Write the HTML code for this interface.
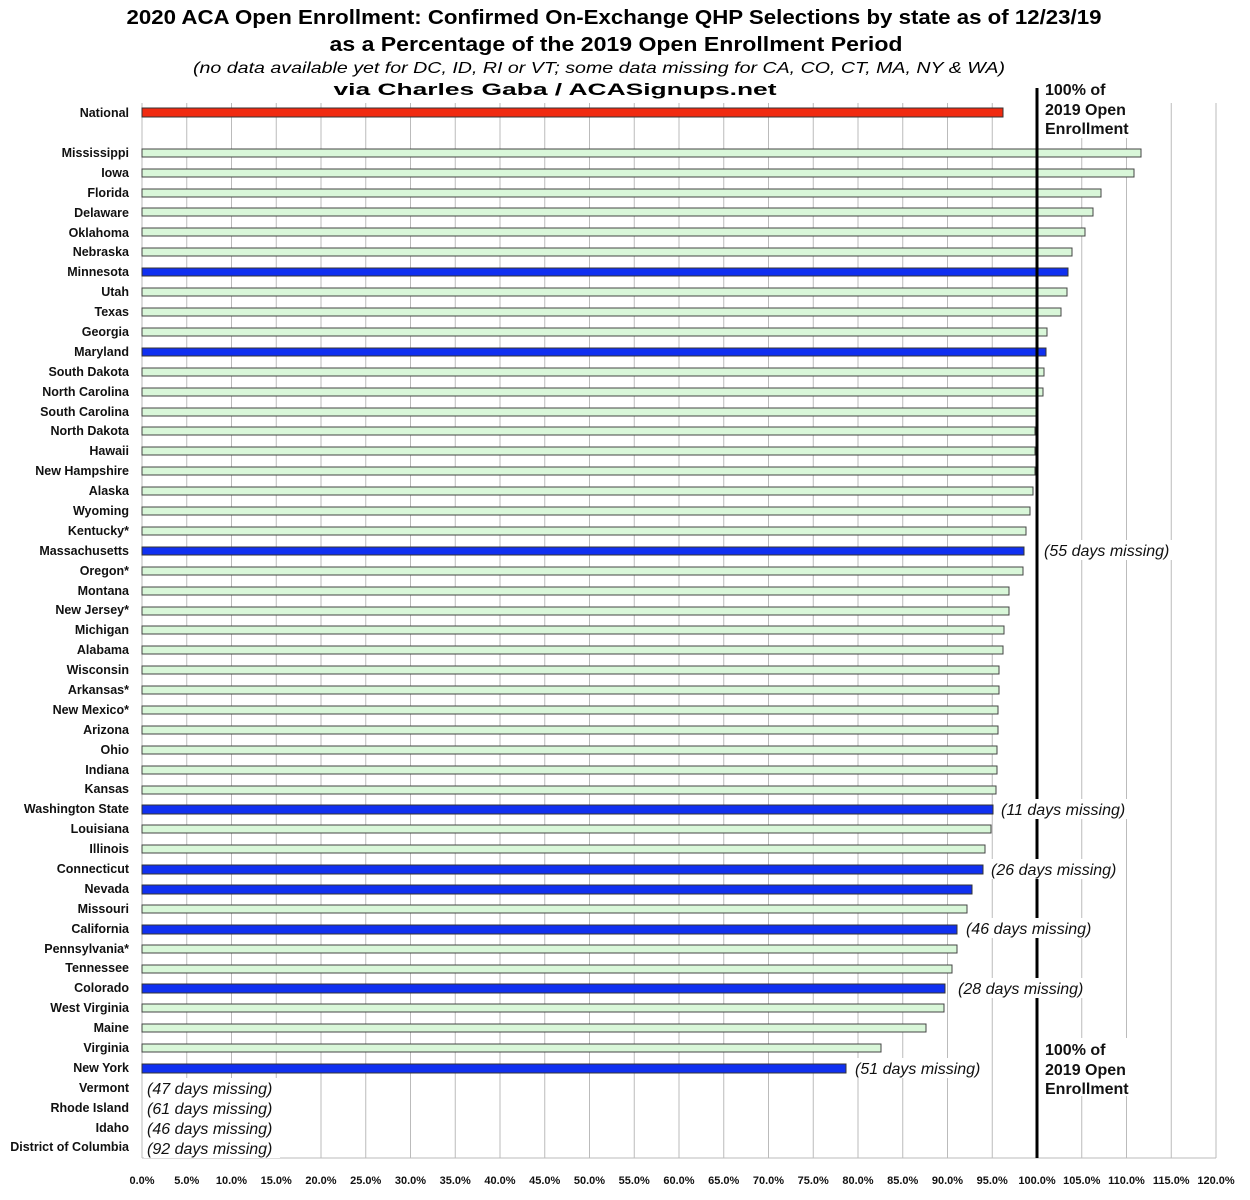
<!DOCTYPE html>
<html><head><meta charset="utf-8"><style>
html,body{margin:0;padding:0;background:#fff}
svg{display:block}
text{font-family:"Liberation Sans",sans-serif}
.l{font-size:12.5px;font-weight:bold;text-anchor:end;fill:#111}
.a{font-size:16px;font-style:italic;fill:#111}
.t{font-size:11px;font-weight:bold;text-anchor:middle;fill:#111}
.g{fill:#d9f7d9;stroke:#444;stroke-width:1}
.b{fill:#1030f0;stroke:#333;stroke-width:1}
</style></head><body>
<svg width="1250" height="1200" viewBox="0 0 1250 1200" xmlns="http://www.w3.org/2000/svg">
<rect width="1250" height="1200" fill="#fff"/>
<text x="614" y="24" text-anchor="middle" font-size="20" font-weight="bold" textLength="975" lengthAdjust="spacingAndGlyphs">2020 ACA Open Enrollment: Confirmed On-Exchange QHP Selections by state as of 12/23/19</text>
<text x="616" y="51" text-anchor="middle" font-size="20" font-weight="bold" textLength="573" lengthAdjust="spacingAndGlyphs">as a Percentage of the 2019 Open Enrollment Period</text>
<text x="599" y="73" text-anchor="middle" font-size="16" font-style="italic" textLength="812" lengthAdjust="spacingAndGlyphs">(no data available yet for DC, ID, RI or VT; some data missing for CA, CO, CT, MA, NY &amp; WA)</text>
<text x="555" y="95" text-anchor="middle" font-size="17" font-weight="bold" textLength="443" lengthAdjust="spacingAndGlyphs">via Charles Gaba / ACASignups.net</text>
<g stroke="#bbb" stroke-width="1">
<line x1="186.75" y1="103" x2="186.75" y2="1158"/><line x1="231.5" y1="103" x2="231.5" y2="1158"/><line x1="276.25" y1="103" x2="276.25" y2="1158"/><line x1="321" y1="103" x2="321" y2="1158"/><line x1="365.75" y1="103" x2="365.75" y2="1158"/><line x1="410.5" y1="103" x2="410.5" y2="1158"/><line x1="455.25" y1="103" x2="455.25" y2="1158"/><line x1="500" y1="103" x2="500" y2="1158"/><line x1="544.75" y1="103" x2="544.75" y2="1158"/><line x1="589.5" y1="103" x2="589.5" y2="1158"/><line x1="634.25" y1="103" x2="634.25" y2="1158"/><line x1="679" y1="103" x2="679" y2="1158"/><line x1="723.75" y1="103" x2="723.75" y2="1158"/><line x1="768.5" y1="103" x2="768.5" y2="1158"/><line x1="813.25" y1="103" x2="813.25" y2="1158"/><line x1="858" y1="103" x2="858" y2="1158"/><line x1="902.75" y1="103" x2="902.75" y2="1158"/><line x1="947.5" y1="103" x2="947.5" y2="1158"/><line x1="992.25" y1="103" x2="992.25" y2="1158"/><line x1="1081.75" y1="103" x2="1081.75" y2="1158"/><line x1="1126.5" y1="103" x2="1126.5" y2="1158"/><line x1="1171.25" y1="103" x2="1171.25" y2="1158"/><line x1="1216" y1="103" x2="1216" y2="1158"/>
<line x1="142" y1="1158" x2="1216" y2="1158"/>
<line x1="142" y1="103" x2="142" y2="1158"/>
</g>
<g>
<rect x="142" y="108" width="861" height="9" fill="#f02a10" stroke="#333"/>
<rect class="g" x="142" y="149" width="999" height="8"/>
<rect class="g" x="142" y="169" width="992" height="8"/>
<rect class="g" x="142" y="189" width="959" height="8"/>
<rect class="g" x="142" y="208" width="951" height="8"/>
<rect class="g" x="142" y="228" width="943" height="8"/>
<rect class="g" x="142" y="248" width="930" height="8"/>
<rect class="b" x="142" y="268" width="926" height="8"/>
<rect class="g" x="142" y="288" width="925" height="8"/>
<rect class="g" x="142" y="308" width="919" height="8"/>
<rect class="g" x="142" y="328" width="905" height="8"/>
<rect class="b" x="142" y="348" width="904" height="8"/>
<rect class="g" x="142" y="368" width="902" height="8"/>
<rect class="g" x="142" y="388" width="901" height="8"/>
<rect class="g" x="142" y="408" width="895" height="8"/>
<rect class="g" x="142" y="427" width="893" height="8"/>
<rect class="g" x="142" y="447" width="893" height="8"/>
<rect class="g" x="142" y="467" width="893" height="8"/>
<rect class="g" x="142" y="487" width="891" height="8"/>
<rect class="g" x="142" y="507" width="888" height="8"/>
<rect class="g" x="142" y="527" width="884" height="8"/>
<rect class="b" x="142" y="547" width="882" height="8"/>
<rect class="g" x="142" y="567" width="881" height="8"/>
<rect class="g" x="142" y="587" width="867" height="8"/>
<rect class="g" x="142" y="607" width="867" height="8"/>
<rect class="g" x="142" y="626" width="862" height="8"/>
<rect class="g" x="142" y="646" width="861" height="8"/>
<rect class="g" x="142" y="666" width="857" height="8"/>
<rect class="g" x="142" y="686" width="857" height="8"/>
<rect class="g" x="142" y="706" width="856" height="8"/>
<rect class="g" x="142" y="726" width="856" height="8"/>
<rect class="g" x="142" y="746" width="855" height="8"/>
<rect class="g" x="142" y="766" width="855" height="8"/>
<rect class="g" x="142" y="786" width="854" height="8"/>
<rect class="b" x="142" y="805" width="851" height="9"/>
<rect class="g" x="142" y="825" width="849" height="8"/>
<rect class="g" x="142" y="845" width="843" height="8"/>
<rect class="b" x="142" y="865" width="841" height="9"/>
<rect class="b" x="142" y="885" width="830" height="9"/>
<rect class="g" x="142" y="905" width="825" height="8"/>
<rect class="b" x="142" y="925" width="815" height="9"/>
<rect class="g" x="142" y="945" width="815" height="8"/>
<rect class="g" x="142" y="965" width="810" height="8"/>
<rect class="b" x="142" y="984" width="803" height="9"/>
<rect class="g" x="142" y="1004" width="802" height="8"/>
<rect class="g" x="142" y="1024" width="784" height="8"/>
<rect class="g" x="142" y="1044" width="739" height="8"/>
<rect class="b" x="142" y="1064" width="704" height="9"/>
</g>
<line x1="1037" y1="88" x2="1037" y2="1158" stroke="#000" stroke-width="3"/>
<g fill="#fff">
<rect x="1043" y="80" width="95" height="58"/>
<rect x="1043" y="1038" width="95" height="58"/>
<rect x="1040" y="540" width="136" height="20"/>
<rect x="997" y="799" width="136" height="20"/>
<rect x="987" y="859" width="136" height="20"/>
<rect x="962" y="918" width="136" height="20"/>
<rect x="954" y="978" width="136" height="20"/>
<rect x="851" y="1058" width="136" height="20"/>
<rect x="144" y="1078" width="136" height="80"/>
</g>
<g font-size="16" font-weight="bold" fill="#111">
<text x="1045" y="95">100% of</text><text x="1045" y="115">2019 Open</text><text x="1045" y="134">Enrollment</text>
<text x="1045" y="1055">100% of</text><text x="1045" y="1075">2019 Open</text><text x="1045" y="1094">Enrollment</text>
</g>
<g class="a">
<text class="a" x="1044" y="556">(55 days missing)</text>
<text class="a" x="1001" y="815">(11 days missing)</text>
<text class="a" x="991" y="875">(26 days missing)</text>
<text class="a" x="966" y="934">(46 days missing)</text>
<text class="a" x="958" y="994">(28 days missing)</text>
<text class="a" x="855" y="1074">(51 days missing)</text>
<text class="a" x="147" y="1094">(47 days missing)</text>
<text class="a" x="147" y="1114">(61 days missing)</text>
<text class="a" x="147" y="1134">(46 days missing)</text>
<text class="a" x="147" y="1154">(92 days missing)</text>
</g>
<g>
<text class="l" x="129" y="117">National</text>
<text class="l" x="129" y="157">Mississippi</text>
<text class="l" x="129" y="177">Iowa</text>
<text class="l" x="129" y="197">Florida</text>
<text class="l" x="129" y="217">Delaware</text>
<text class="l" x="129" y="237">Oklahoma</text>
<text class="l" x="129" y="256">Nebraska</text>
<text class="l" x="129" y="276">Minnesota</text>
<text class="l" x="129" y="296">Utah</text>
<text class="l" x="129" y="316">Texas</text>
<text class="l" x="129" y="336">Georgia</text>
<text class="l" x="129" y="356">Maryland</text>
<text class="l" x="129" y="376">South Dakota</text>
<text class="l" x="129" y="396">North Carolina</text>
<text class="l" x="129" y="416">South Carolina</text>
<text class="l" x="129" y="435">North Dakota</text>
<text class="l" x="129" y="455">Hawaii</text>
<text class="l" x="129" y="475">New Hampshire</text>
<text class="l" x="129" y="495">Alaska</text>
<text class="l" x="129" y="515">Wyoming</text>
<text class="l" x="129" y="535">Kentucky*</text>
<text class="l" x="129" y="555">Massachusetts</text>
<text class="l" x="129" y="575">Oregon*</text>
<text class="l" x="129" y="595">Montana</text>
<text class="l" x="129" y="614">New Jersey*</text>
<text class="l" x="129" y="634">Michigan</text>
<text class="l" x="129" y="654">Alabama</text>
<text class="l" x="129" y="674">Wisconsin</text>
<text class="l" x="129" y="694">Arkansas*</text>
<text class="l" x="129" y="714">New Mexico*</text>
<text class="l" x="129" y="734">Arizona</text>
<text class="l" x="129" y="754">Ohio</text>
<text class="l" x="129" y="774">Indiana</text>
<text class="l" x="129" y="793">Kansas</text>
<text class="l" x="129" y="813">Washington State</text>
<text class="l" x="129" y="833">Louisiana</text>
<text class="l" x="129" y="853">Illinois</text>
<text class="l" x="129" y="873">Connecticut</text>
<text class="l" x="129" y="893">Nevada</text>
<text class="l" x="129" y="913">Missouri</text>
<text class="l" x="129" y="933">California</text>
<text class="l" x="129" y="953">Pennsylvania*</text>
<text class="l" x="129" y="972">Tennessee</text>
<text class="l" x="129" y="992">Colorado</text>
<text class="l" x="129" y="1012">West Virginia</text>
<text class="l" x="129" y="1032">Maine</text>
<text class="l" x="129" y="1052">Virginia</text>
<text class="l" x="129" y="1072">New York</text>
<text class="l" x="129" y="1092">Vermont</text>
<text class="l" x="129" y="1112">Rhode Island</text>
<text class="l" x="129" y="1132">Idaho</text>
<text class="l" x="129" y="1151">District of Columbia</text>
</g>
<g>
<text class="t" x="142" y="1184">0.0%</text><text class="t" x="186.75" y="1184">5.0%</text><text class="t" x="231.5" y="1184">10.0%</text><text class="t" x="276.25" y="1184">15.0%</text><text class="t" x="321" y="1184">20.0%</text><text class="t" x="365.75" y="1184">25.0%</text><text class="t" x="410.5" y="1184">30.0%</text><text class="t" x="455.25" y="1184">35.0%</text><text class="t" x="500" y="1184">40.0%</text><text class="t" x="544.75" y="1184">45.0%</text><text class="t" x="589.5" y="1184">50.0%</text><text class="t" x="634.25" y="1184">55.0%</text><text class="t" x="679" y="1184">60.0%</text><text class="t" x="723.75" y="1184">65.0%</text><text class="t" x="768.5" y="1184">70.0%</text><text class="t" x="813.25" y="1184">75.0%</text><text class="t" x="858" y="1184">80.0%</text><text class="t" x="902.75" y="1184">85.0%</text><text class="t" x="947.5" y="1184">90.0%</text><text class="t" x="992.25" y="1184">95.0%</text><text class="t" x="1037" y="1184">100.0%</text><text class="t" x="1081.75" y="1184">105.0%</text><text class="t" x="1126.5" y="1184">110.0%</text><text class="t" x="1171.25" y="1184">115.0%</text><text class="t" x="1216" y="1184">120.0%</text>
</g>
</svg>
</body></html>
